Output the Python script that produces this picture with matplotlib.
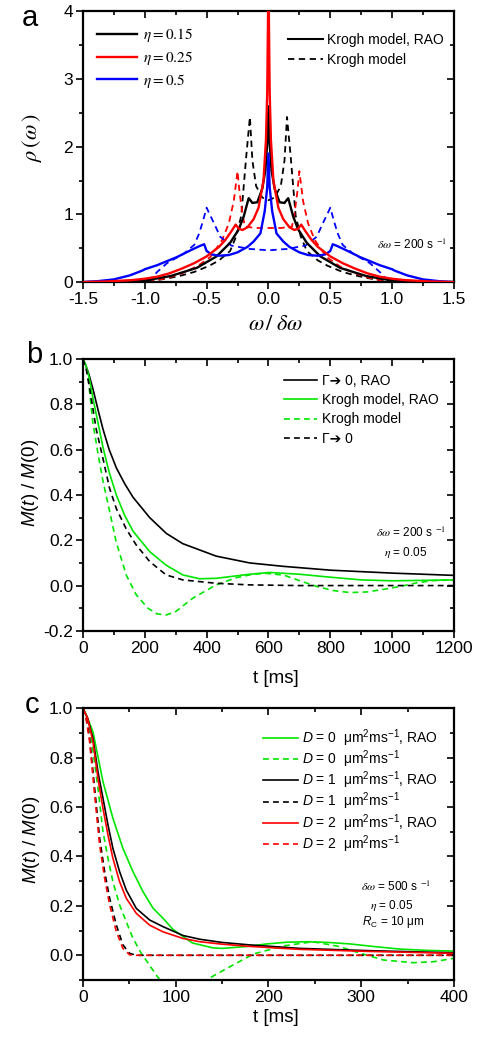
import numpy as np
import matplotlib
matplotlib.use("Agg")
import matplotlib.pyplot as plt
from matplotlib.ticker import MultipleLocator
from matplotlib.font_manager import FontProperties

plt.rcParams["font.family"] = ["Liberation Sans", "DejaVu Sans"]
plt.rcParams["mathtext.fontset"] = "custom"
plt.rcParams["mathtext.rm"] = "Liberation Sans"
plt.rcParams["mathtext.it"] = "Liberation Sans:italic"
plt.rcParams["mathtext.bf"] = "Liberation Sans:bold"
plt.rcParams["axes.unicode_minus"] = False

GREEN = "#00e600"

# ---- panel a: frequency distribution, half curves (omega >= 0), symmetric
A_BLK_DASH_X = [0, 0.05, 0.10, 0.13, 0.15, 0.18, 0.22, 0.26, 0.31, 0.40, 0.48, 0.60, 0.70, 0.80, 0.90, 0.97, 1.0, 1.5]
A_BLK_DASH_Y = [1.21, 1.25, 1.42, 1.80, 2.44, 1.85, 0.98, 0.68, 0.46, 0.32, 0.24, 0.15, 0.10, 0.06, 0.03, 0.01, 0.0, 0.0]
A_RED_DASH_X = [0, 0.10, 0.19, 0.21, 0.235, 0.25, 0.28, 0.32, 0.375, 0.47, 0.58, 0.70, 0.80, 0.90, 1.0, 1.5]
A_RED_DASH_Y = [0.80, 0.80, 0.82, 1.0, 1.35, 1.64, 1.2, 0.87, 0.62, 0.37, 0.23, 0.13, 0.07, 0.03, 0.0, 0.0]
A_BLUE_DASH_X = [0, 0.15, 0.30, 0.39, 0.44, 0.48, 0.50, 0.53, 0.56, 0.60, 0.685, 0.82, 0.90, 0.955, 1.0, 1.5]
A_BLUE_DASH_Y = [0.47, 0.49, 0.54, 0.67, 0.87, 1.02, 1.10, 0.90, 0.72, 0.55, 0.42, 0.28, 0.15, 0.04, 0.0, 0.0]

A_BLK_SOL_X = [0, 0.01, 0.025, 0.05, 0.09, 0.13, 0.15, 0.16, 0.20, 0.24, 0.31, 0.42, 0.58, 0.79, 0.98, 1.2, 1.5]
A_BLK_SOL_Y = [2.6, 2.05, 1.65, 1.38, 1.18, 1.17, 1.22, 1.24, 0.97, 0.78, 0.58, 0.38, 0.21, 0.09, 0.03, 0.01, 0.0]
A_RED_SOL_X = [0, 0.01, 0.02, 0.04, 0.08, 0.12, 0.17, 0.21, 0.24, 0.265, 0.30, 0.35, 0.40, 0.50, 0.60, 0.70, 0.80, 0.90, 1.0, 1.1, 1.3, 1.5]
A_RED_SOL_Y = [4.5, 2.8, 2.1, 1.5, 1.1, 0.93, 0.81, 0.77, 0.79, 0.85, 0.75, 0.62, 0.52, 0.38, 0.28, 0.20, 0.13, 0.08, 0.05, 0.03, 0.01, 0.0]
A_BLUE_SOL_X = [0, 0.01, 0.03, 0.065, 0.12, 0.17, 0.25, 0.32, 0.40, 0.46, 0.50, 0.52, 0.56, 0.63, 0.74, 0.90, 1.0, 1.02, 1.12, 1.25, 1.4, 1.5]
A_BLUE_SOL_Y = [1.9, 1.4, 1.05, 0.72, 0.60, 0.52, 0.44, 0.40, 0.39, 0.41, 0.46, 0.56, 0.53, 0.47, 0.37, 0.25, 0.19, 0.17, 0.10, 0.04, 0.01, 0.0]

ETA_LABELS = ["0.15", "0.25", "0.5"]

# ---- panel b: signal decay, delta omega = 200 1/s
B_T_BLK = [0, 10, 20, 32, 50, 65, 85, 108, 135, 162, 216, 270, 323, 431, 539, 647, 800, 1000, 1200]
B_BLK_RAO = [1.0, 0.97, 0.93, 0.87, 0.77, 0.69, 0.60, 0.52, 0.45, 0.39, 0.30, 0.23, 0.185, 0.13, 0.10, 0.085, 0.068, 0.055, 0.045]
B_T_GRN = [0, 10, 20, 32, 50, 65, 85, 108, 135, 162, 216, 269, 323, 377, 431, 539, 604, 700, 800, 900, 1000, 1100, 1200]
B_GRN_RAO = [1.0, 0.97, 0.92, 0.83, 0.71, 0.61, 0.50, 0.40, 0.31, 0.24, 0.15, 0.09, 0.047, 0.03, 0.032, 0.05, 0.058, 0.05, 0.037, 0.025, 0.021, 0.023, 0.025]
B_T_GRN_D = [0, 8, 16, 32, 49, 65, 86, 108, 140, 172, 210, 240, 269, 300, 355, 431, 496, 550, 593, 650, 700, 756, 810, 864, 920, 980, 1025, 1080, 1133, 1200]
B_GRN_KROGH = [1.0, 0.98, 0.93, 0.72, 0.58, 0.46, 0.33, 0.19, 0.047, -0.04, -0.10, -0.125, -0.13, -0.115, -0.056, 0.003, 0.035, 0.05, 0.054, 0.046, 0.022, -0.004, -0.022, -0.031, -0.028, -0.015, -0.004, 0.012, 0.022, 0.025]
B_T_BLK_D = [0, 10, 22, 43, 65, 86, 108, 140, 172, 216, 269, 323, 431, 539, 700, 1200]
B_BLK_GAMMA = [1.0, 0.96, 0.87, 0.69, 0.56, 0.43, 0.34, 0.25, 0.18, 0.106, 0.047, 0.025, 0.01, 0.003, 0.0, 0.0]

# ---- panel c: signal decay, delta omega = 500 1/s, different D
C_T_GRN = [0, 4, 10.8, 21.6, 32.3, 43.1, 53.9, 64.7, 75.5, 86.3, 97, 118, 140, 150, 175, 198, 220, 241, 265, 288, 315, 342, 370, 400]
C_GRN_RAO = [1.0, 0.97, 0.905, 0.703, 0.555, 0.433, 0.339, 0.258, 0.191, 0.15, 0.105, 0.05, 0.03, 0.028, 0.035, 0.046, 0.053, 0.055, 0.052, 0.046, 0.035, 0.025, 0.02, 0.017]
C_T_RAO = [0, 5, 10.8, 16.2, 21.6, 27, 32.3, 39.5, 46.7, 57.5, 71.9, 86.3, 108, 126, 150, 180, 234, 306, 400]
C_BLK_RAO = [1.0, 0.96, 0.879, 0.743, 0.636, 0.528, 0.433, 0.339, 0.264, 0.19, 0.143, 0.116, 0.08, 0.065, 0.052, 0.042, 0.028, 0.019, 0.01]
C_RED_RAO = [1.0, 0.96, 0.865, 0.716, 0.595, 0.487, 0.393, 0.298, 0.231, 0.17, 0.122, 0.095, 0.068, 0.055, 0.045, 0.036, 0.024, 0.016, 0.008]
C_T_D = [0, 3, 7.2, 12.6, 18, 23.4, 28.8, 36, 43.1, 50.3, 57.5, 400]
C_BLK_D = [1.0, 0.97, 0.879, 0.677, 0.474, 0.339, 0.231, 0.123, 0.042, 0.008, 0.0, 0.0]
C_RED_D = [1.0, 0.97, 0.865, 0.65, 0.447, 0.312, 0.204, 0.096, 0.028, 0.002, 0.0, 0.0]
C_T_GRN_D = [0, 4, 9, 16.2, 21.6, 27, 32.3, 39.5, 46.7, 53.9, 62.9, 70, 80, 90, 108, 125, 133, 147, 162, 183.6, 216, 248, 277, 299, 324, 356, 378, 400]
C_GRN_D = [1.0, 0.97, 0.879, 0.677, 0.501, 0.393, 0.298, 0.204, 0.136, 0.069, 0.008, -0.03, -0.085, -0.13, -0.17, -0.13, -0.1, -0.07, -0.039, 0.005, 0.038, 0.055, 0.035, 0.008, -0.019, -0.03, -0.026, -0.012]
D_VALUES = ["0", "1", "2"]

DASH = (0, (3.5, 2.5))


def mirror(x, y):
    """Build the full symmetric curve from the omega >= 0 half."""
    x = np.asarray(x, dtype=float)
    y = np.asarray(y, dtype=float)
    return np.concatenate([-x[::-1], x[1:]]), np.concatenate([y[::-1], y[1:]])


def style_axes(ax, xmaj, xmin, ymaj, ymin):
    for s in ax.spines.values():
        s.set_linewidth(1.6)
    ax.xaxis.set_major_locator(MultipleLocator(xmaj))
    ax.xaxis.set_minor_locator(MultipleLocator(xmin))
    ax.yaxis.set_major_locator(MultipleLocator(ymaj))
    ax.yaxis.set_minor_locator(MultipleLocator(ymin))
    ax.tick_params(which="both", direction="out", top=False, right=False,
                   width=1.2, labelsize=12.5, pad=2)
    ax.tick_params(which="major", length=5)
    ax.tick_params(which="minor", length=3)
    # mirrored ticks on top / right, pointing inwards
    top = ax.secondary_xaxis("top")
    top.xaxis.set_major_locator(MultipleLocator(xmaj))
    top.xaxis.set_minor_locator(MultipleLocator(xmin))
    top.tick_params(which="both", direction="in", labeltop=False, width=1.2)
    top.tick_params(which="major", length=5)
    top.tick_params(which="minor", length=3)
    top.spines["top"].set_visible(False)
    right = ax.secondary_yaxis("right")
    right.yaxis.set_major_locator(MultipleLocator(ymaj))
    right.yaxis.set_minor_locator(MultipleLocator(ymin))
    right.tick_params(which="both", direction="in", labelright=False, width=1.2)
    right.tick_params(which="major", length=5)
    right.tick_params(which="minor", length=3)
    right.spines["right"].set_visible(False)


fig = plt.figure(figsize=(4.85, 10.41), dpi=100)
ax_a = fig.add_axes([0.171, 0.729, 0.765, 0.260])
ax_b = fig.add_axes([0.171, 0.394, 0.765, 0.261])
ax_c = fig.add_axes([0.171, 0.0586, 0.765, 0.261])

# ---------------- panel a ----------------
for xs, ys, col in [(A_BLK_DASH_X, A_BLK_DASH_Y, "black"),
                    (A_RED_DASH_X, A_RED_DASH_Y, "red"),
                    (A_BLUE_DASH_X, A_BLUE_DASH_Y, "blue")]:
    xx, yy = mirror(xs, ys)
    ax_a.plot(xx, yy, color=col, lw=1.3, linestyle=DASH)

eta_handles = []
for xs, ys, col in [(A_BLK_SOL_X, A_BLK_SOL_Y, "black"),
                    (A_RED_SOL_X, A_RED_SOL_Y, "red"),
                    (A_BLUE_SOL_X, A_BLUE_SOL_Y, "blue")]:
    xx, yy = mirror(xs, ys)
    line, = ax_a.plot(xx, yy, color=col, lw=1.7, zorder=3 if col != "red" else 4)
    eta_handles.append(line)

ax_a.set_xlim(-1.5, 1.5)
ax_a.set_ylim(0, 4)
style_axes(ax_a, 0.5, 0.25, 1, 0.5)
ax_a.xaxis.set_major_formatter(matplotlib.ticker.FormatStrFormatter("%.1f"))

leg1 = ax_a.legend(eta_handles, [r"$\eta = %s$" % e for e in ETA_LABELS],
                   loc="upper left", bbox_to_anchor=(0.038, 0.945), frameon=False,
                   borderpad=0, borderaxespad=0, handlelength=2.6, handletextpad=0.4,
                   labelspacing=0.3,
                   prop=FontProperties(family="Liberation Serif", size=11, math_fontfamily="stix"))
ax_a.add_artist(leg1)
h_rao, = ax_a.plot([], [], color="black", lw=1.5)
h_kr, = ax_a.plot([], [], color="black", lw=1.3, linestyle=DASH)
ax_a.legend([h_rao, h_kr], ["Krogh model, RAO", "Krogh model"],
            loc="upper left", bbox_to_anchor=(0.553, 0.922), frameon=False,
            borderpad=0, borderaxespad=0, handlelength=2.5, handletextpad=0.3,
            labelspacing=0.45, fontsize=10)
ax_a.text(0.888, 0.137, r"$\delta\omega$ = 200 s $^{-1}$", transform=ax_a.transAxes,
          ha="center", va="center", fontsize=8.5, math_fontfamily="stix")

fig.text(0.066, 0.868, r"$\rho\,(\omega\,)$", rotation=90, ha="center", va="center",
         fontsize=16, math_fontfamily="stix")
fig.text(0.569, 0.688, r"$\omega\,/\;\delta\omega$", ha="center", va="center",
         fontsize=16, math_fontfamily="stix")

# ---------------- panel b ----------------
hb1, = ax_b.plot(B_T_BLK, B_BLK_RAO, color="black", lw=1.2)
hb2, = ax_b.plot(B_T_GRN, B_GRN_RAO, color=GREEN, lw=1.2)
hb3, = ax_b.plot(B_T_GRN_D, B_GRN_KROGH, color=GREEN, lw=1.2, linestyle=DASH)
hb4, = ax_b.plot(B_T_BLK_D, B_BLK_GAMMA, color="black", lw=1.2, linestyle=DASH)
ax_b.set_xlim(0, 1200)
ax_b.set_ylim(-0.2, 1.0)
style_axes(ax_b, 200, 100, 0.2, 0.1)
ax_b.yaxis.set_major_formatter(matplotlib.ticker.FormatStrFormatter("%.1f"))
ax_b.legend([hb1, hb2, hb3, hb4],
            ["\u0393\u2794 0, RAO", "Krogh model, RAO", "Krogh model", "\u0393\u2794 0"],
            loc="upper left", bbox_to_anchor=(0.542, 0.945), frameon=False,
            borderpad=0, borderaxespad=0, handlelength=2.4, handletextpad=0.35,
            labelspacing=0.37,
            prop=FontProperties(family=["Liberation Sans", "DejaVu Sans"], size=10))
ax_b.text(0.884, 0.36, r"$\delta\omega$ = 200 s $^{-1}$", transform=ax_b.transAxes,
          ha="center", va="center", fontsize=8.5, math_fontfamily="stix")
ax_b.text(0.871, 0.29, r"$\eta$ = 0.05", transform=ax_b.transAxes,
          ha="center", va="center", fontsize=8.5, math_fontfamily="stix")
fig.text(0.062, 0.536, r"$M$($t$) / $M$(0)", rotation=90, ha="center", va="center", fontsize=13.5)
fig.text(0.569, 0.348, "t [ms]", ha="center", va="center", fontsize=13.5)

# ---------------- panel c ----------------
hc1, = ax_c.plot(C_T_GRN, C_GRN_RAO, color=GREEN, lw=1.2)
hc2, = ax_c.plot(C_T_GRN_D, C_GRN_D, color=GREEN, lw=1.2, linestyle=DASH)
hc3, = ax_c.plot(C_T_RAO, C_BLK_RAO, color="black", lw=1.2)
hc4, = ax_c.plot(C_T_D, C_BLK_D, color="black", lw=1.2, linestyle=DASH)
hc5, = ax_c.plot(C_T_RAO, C_RED_RAO, color="red", lw=1.2)
hc6, = ax_c.plot(C_T_D, C_RED_D, color="red", lw=1.2, linestyle=DASH)
ax_c.set_xlim(0, 400)
ax_c.set_ylim(-0.1, 1.0)
style_axes(ax_c, 100, 50, 0.2, 0.1)
ax_c.yaxis.set_major_formatter(matplotlib.ticker.FormatStrFormatter("%.1f"))
c_labels = []
for d in D_VALUES:
    c_labels.append(r"$D$ = %s  μm$^2$ms$^{-1}$, RAO" % d)
    c_labels.append(r"$D$ = %s  μm$^2$ms$^{-1}$" % d)
ax_c.legend([hc1, hc2, hc3, hc4, hc5, hc6], c_labels,
            loc="upper left", bbox_to_anchor=(0.485, 0.93), frameon=False,
            borderpad=0, borderaxespad=0, handlelength=2.5, handletextpad=0.35,
            labelspacing=-0.03, fontsize=10)
ax_c.text(0.845, 0.342, r"$\delta\omega$ = 500 s $^{-1}$", transform=ax_c.transAxes,
          ha="center", va="center", fontsize=8.5, math_fontfamily="stix")
ax_c.text(0.833, 0.273, r"$\eta$ = 0.05", transform=ax_c.transAxes,
          ha="center", va="center", fontsize=8.5, math_fontfamily="stix")
ax_c.text(0.837, 0.213, r"$R_{\rm C}$ = 10 μm", transform=ax_c.transAxes,
          ha="center", va="center", fontsize=8.5)
fig.text(0.064, 0.193, r"$M$($t$) / $M$(0)", rotation=90, ha="center", va="center", fontsize=13.5)
fig.text(0.569, 0.023, "t [ms]", ha="center", va="center", fontsize=13.5)

# panel letters
fig.text(0.062, 0.983, "a", ha="center", va="center", fontsize=21)
fig.text(0.070, 0.659, "b", ha="center", va="center", fontsize=21)
fig.text(0.066, 0.323, "c", ha="center", va="center", fontsize=21)

fig.savefig("out.png", dpi=100, facecolor="white")
